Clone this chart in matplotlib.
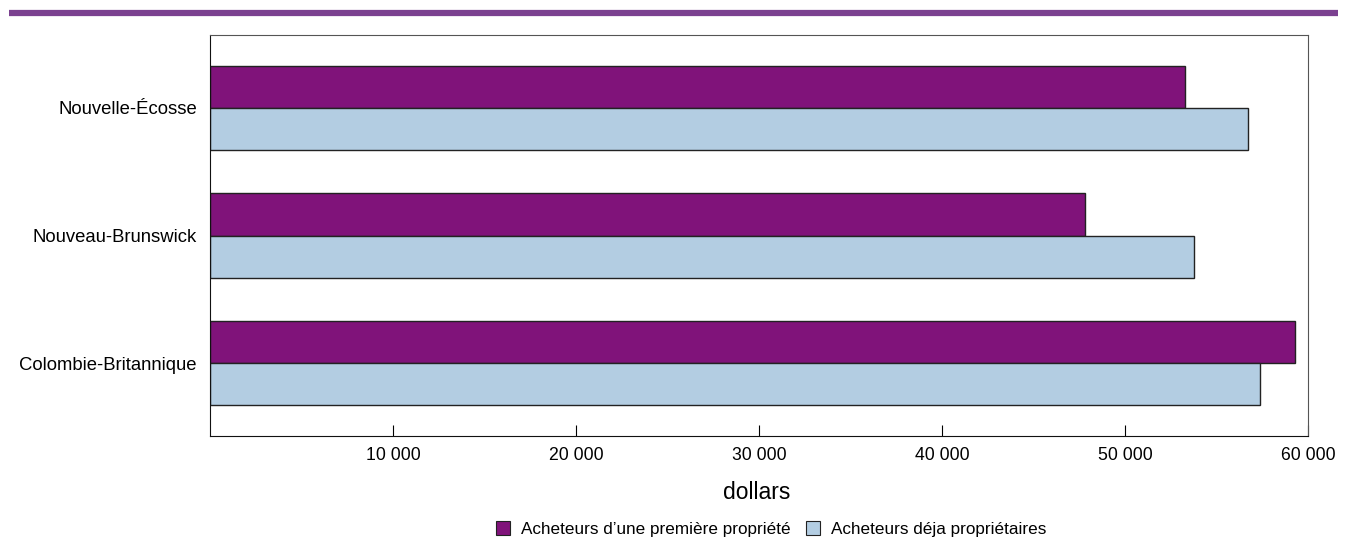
import matplotlib.pyplot as plt
import numpy as np
from matplotlib.patches import Patch
from matplotlib.ticker import FuncFormatter

plt.rcParams['font.family'] = ['Liberation Sans', 'DejaVu Sans']

provinces = ['Nouvelle-Écosse', 'Nouveau-Brunswick', 'Colombie-Britannique']
first_time = [53300, 47800, 59300]
repeat = [56700, 53800, 57400]
series_names = ['Acheteurs d\u2019une première propriété', 'Acheteurs déja propriétaires']

purple = '#80137A'
light_blue = '#B3CDE2'

fig = plt.figure(figsize=(13.47, 5.39), dpi=100)
ax = fig.add_axes([0.1559, 0.191, 0.8151, 0.744])

y = np.arange(len(provinces))
h = 0.33
ax.barh(y - h / 2, first_time, height=h, color=purple, edgecolor='#222222', linewidth=1)
ax.barh(y + h / 2, repeat, height=h, color=light_blue, edgecolor='#222222', linewidth=1)

ax.set_xlim(0, 60000)
ax.set_ylim(2.57, -0.57)
ax.set_yticks(y)
ax.set_yticklabels(provinces, fontsize=13.3)
ax.tick_params(axis='y', length=0, pad=9.4)
ax.set_xticks(np.arange(10000, 60001, 10000))
ax.xaxis.set_major_formatter(FuncFormatter(lambda v, p: f'{int(v):,}'.replace(',', ' ')))
ax.tick_params(axis='x', direction='in', length=8, labelsize=12.7, pad=8)

ax.set_xlabel('dollars', fontsize=16.5)
ax.xaxis.label.set_va('center')
ax.xaxis.set_label_coords(0.498, -0.1397)

for s in ['left', 'bottom']:
    ax.spines[s].set_color('#111111')
for s in ['top', 'right']:
    ax.spines[s].set_color('#555555')

# band across the top
fig.add_artist(plt.Line2D([9 / 1347, 1338 / 1347], [1 - 13 / 539, 1 - 13 / 539],
                          color='#7B4190', linewidth=4.5, solid_capstyle='butt'))

handles = [Patch(facecolor=purple, edgecolor='#222222', linewidth=0.8),
           Patch(facecolor=light_blue, edgecolor='#222222', linewidth=0.8)]
fig.legend(handles, series_names, loc='center', bbox_to_anchor=(0.5724, 1 - 529 / 539),
           ncol=2, frameon=False, fontsize=12.3, handlelength=0.82, handleheight=0.82,
           handletextpad=0.65, columnspacing=0.88, borderpad=0)

fig.savefig('out.png', dpi=100)
